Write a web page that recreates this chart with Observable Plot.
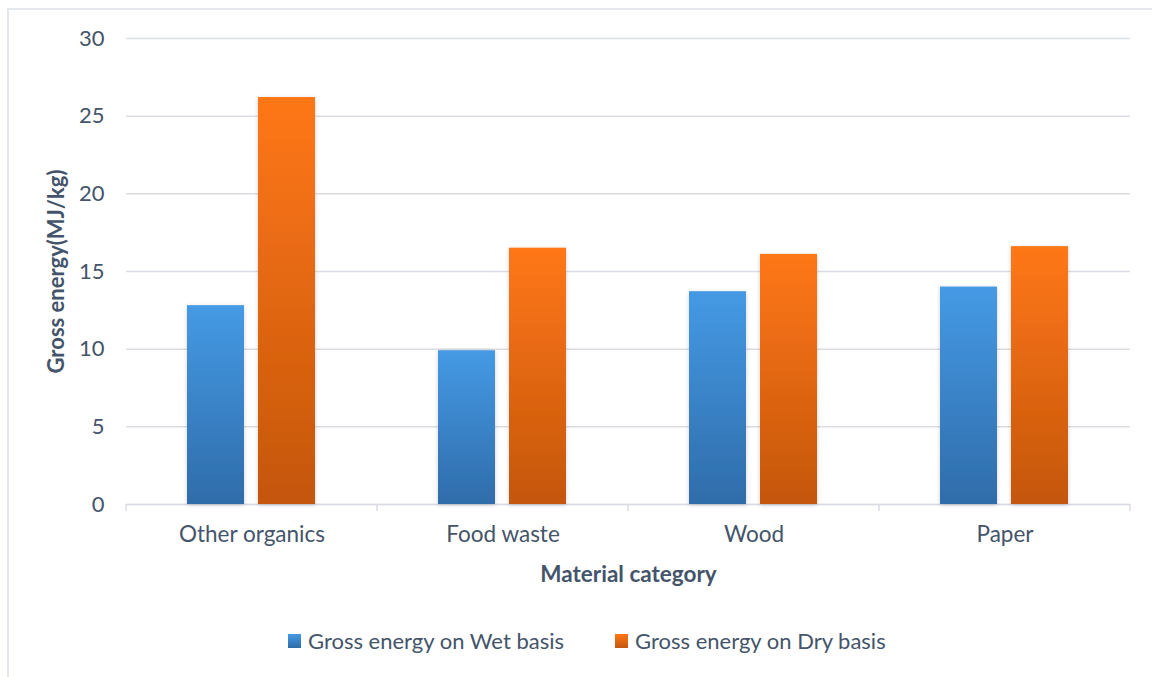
<!DOCTYPE html>
<html><head><meta charset="utf-8">
<script src="https://cdn.jsdelivr.net/npm/d3@7"></script>
<script src="https://cdn.jsdelivr.net/npm/@observablehq/plot@0.6"></script>
<style>
body{margin:0;background:#fff;font-family:Lato,"Open Sans",sans-serif;}
#wrap{position:relative;width:1152px;height:677px;overflow:hidden;}
#border{position:absolute;left:7px;top:8px;width:1160px;height:700px;border:2px solid #e4e7eb;box-sizing:border-box;}
#chart{position:absolute;left:0;top:0;}
#legend{position:absolute;left:288px;top:627px;display:flex;align-items:center;font-size:22px;color:#44546a;white-space:nowrap;}
.sw{width:13px;height:14px;margin-right:7px;}
.item{display:flex;align-items:center;margin-right:51px;}
g[aria-label="y-axis label"] text, g[aria-label="fx-axis label"] text{font-weight:bold;}
</style></head><body>
<div id="wrap"><div id="border"></div><div id="chart"></div><div id="legend"></div></div>
<script>
const categories = ["Other organics","Food waste","Wood","Paper"];
const series = ["Gross energy on Wet basis","Gross energy on Dry basis"];
const wetValues = [12.8, 9.9, 13.7, 14.0];
const dryValues = [26.2, 16.5, 16.1, 16.6];
const yTicks = [0,5,10,15,20,25,30];
const seriesColors = [["#459ae5","#2f6caa"],["#ff7713","#c45610"]];

const data = categories.flatMap((c,i)=>[
  {category:c, series:series[0], value:wetValues[i]},
  {category:c, series:series[1], value:dryValues[i]}
]);
const gradIds = ["gWet","gDry"];

const chart = Plot.plot({
  width:1152, height:600,
  marginLeft:124, marginRight:21, marginTop:38, marginBottom:96,
  style:{fontFamily:"Lato, 'Open Sans', sans-serif", color:"#44546a", background:"transparent"},
  fx:{domain:categories, padding:0},
  x:{domain:series, paddingInner:0.194, paddingOuter:0.846, axis:null},
  y:{domain:[0,30]},
  color:{domain:series, range:gradIds.map(id=>`url(#${id})`)},
  marks:[
    Plot.gridY(yTicks, {stroke:"#d9dde3", strokeOpacity:1, strokeWidth:1.5}),
    Plot.ruleY([0], {stroke:"#d9dde3", strokeWidth:1.5}),
    Plot.barY(data, {fx:"category", x:"series", y:"value", fill:"series"}),
    Plot.axisY(yTicks, {tickSize:0, tickPadding:22, fontSize:22, label:"Gross energy(MJ/kg)", labelAnchor:"center", labelArrow:"none", labelOffset:78}),
    Plot.axisFx({anchor:"bottom", tickSize:0, tickPadding:22, fontSize:22.5, label:"Material category", labelAnchor:"center", labelOffset:77})
  ]
});

const svg = d3.select(chart);
const defs = svg.insert("defs", ":first-child");
gradIds.forEach((id,i)=>{
  const g = defs.append("linearGradient").attr("id",id).attr("x1",0).attr("y1",0).attr("x2",0).attr("y2",1);
  g.append("stop").attr("offset","0%").attr("stop-color",seriesColors[i][0]);
  g.append("stop").attr("offset","100%").attr("stop-color",seriesColors[i][1]);
});
const f = defs.append("filter").attr("id","sh").attr("x","-20%").attr("y","-5%").attr("width","140%").attr("height","110%");
f.append("feDropShadow").attr("dx",0).attr("dy",1).attr("stdDeviation",2).attr("flood-color","#000").attr("flood-opacity",0.18);
svg.selectAll('g[aria-label="bar"] rect').attr("filter","url(#sh)");

// category boundary ticks on the baseline
const fx = chart.scale("fx"), y = chart.scale("y");
const bounds = categories.map(c=>fx.apply(c)).concat([fx.apply(categories[categories.length-1])+fx.bandwidth]);
const y0 = y.apply(0);
svg.append("g").selectAll("line").data(bounds).join("line")
  .attr("x1",d=>d).attr("x2",d=>d).attr("y1",y0).attr("y2",y0+7)
  .attr("stroke","#d9dde3").attr("stroke-width",1.5);

document.getElementById("chart").append(chart);

const legend = d3.select("#legend");
series.forEach((s,i)=>{
  const it = legend.append("div").attr("class","item");
  it.append("div").attr("class","sw").style("background",`linear-gradient(${seriesColors[i][0]},${seriesColors[i][1]})`);
  it.append("span").text(s);
});
</script>
</body></html>
